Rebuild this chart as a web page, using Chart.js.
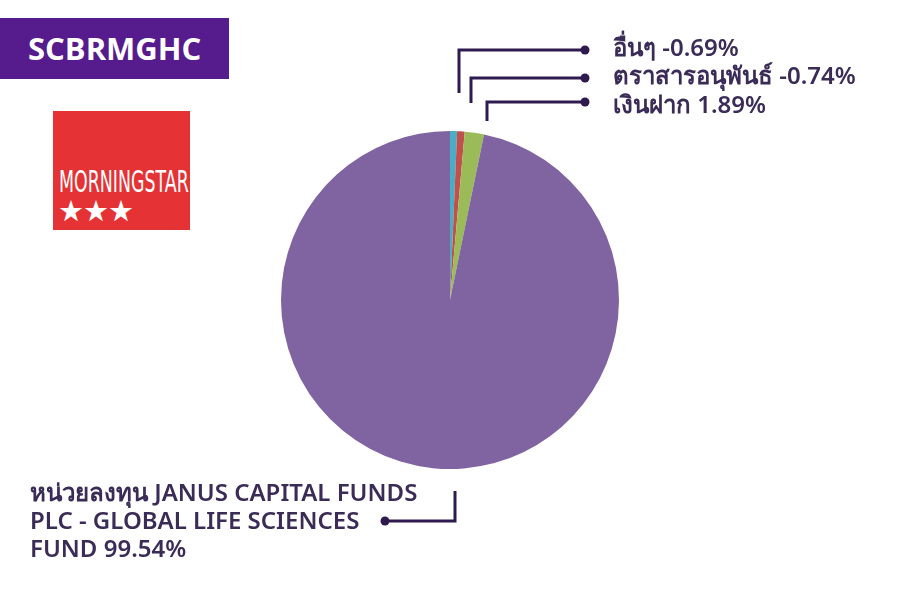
<!DOCTYPE html>
<html>
<head>
<meta charset="utf-8">
<script src="https://cdn.jsdelivr.net/npm/chart.js@4/dist/chart.umd.min.js"></script>
<style>
  body { margin: 0; background: #fff; }
  #wrap { position: relative; width: 900px; height: 600px; }
  #badge {
    position: absolute; left: 0; top: 18px; width: 229px; height: 61px;
    background: #561b8d; color: #fff; font: bold 31px "Open Sans", sans-serif;
    line-height: 61px; padding-left: 28px; box-sizing: border-box;
  }
  #logo {
    position: absolute; left: 53px; top: 111px; width: 137px; height: 119px;
    background: #e53234; color: #fff; overflow: hidden;
  }
  #logo .name {
    position: absolute; left: 6px; top: 53px; font: 30px "DejaVu Sans", sans-serif;
    transform: scaleX(0.58); transform-origin: left; white-space: nowrap;
  }
  #logo .stars { position: absolute; left: 5px; top: 83px; font: 29px "DejaVu Sans", sans-serif; letter-spacing: -1px; }
  canvas { position: absolute; left: 0; top: 0; }
</style>
</head>
<body>
<div id="wrap">
  <canvas id="pie" width="900" height="600"></canvas>
  <div id="badge">SCBRMGHC</div>
  <div id="logo"><div class="name">MORNINGSTAR</div><div class="stars">★★★</div></div>
</div>
<script>
const labels = ["อื่นๆ", "ตราสารอนุพันธ์", "เงินฝาก", "หน่วยลงทุน JANUS CAPITAL FUNDS PLC - GLOBAL LIFE SCIENCES FUND"];
const values = [-0.69, -0.74, 1.89, 99.54];
const colors = ["#4bacc6", "#c0504d", "#9bbb59", "#8064a2"];

// annotation layout for the callouts
const callouts = [
  { lines: ["อื่นๆ -0.69%"], tx: 613, ty: 49, path: [[459, 93], [459, 50], [585, 50]] },
  { lines: ["ตราสารอนุพันธ์ -0.74%"], tx: 613, ty: 77, path: [[471, 103], [471, 78], [585, 78]] },
  { lines: ["เงินฝาก 1.89%"], tx: 613, ty: 106, path: [[487, 121], [487, 102], [585, 102]] },
  { lines: ["หน่วยลงทุน JANUS CAPITAL FUNDS", "PLC - GLOBAL LIFE SCIENCES", "FUND 99.54%"], tx: 30, ty: 494, path: [[455, 491], [455, 521], [385, 521]] }
];

const calloutPlugin = {
  id: "callouts",
  afterDraw(chart) {
    const ctx = chart.ctx;
    ctx.save();
    ctx.strokeStyle = "#2e1a4f";
    ctx.fillStyle = "#2e1a4f";
    ctx.lineWidth = 3;
    callouts.forEach(c => {
      ctx.beginPath();
      c.path.forEach((p, i) => i ? ctx.lineTo(p[0], p[1]) : ctx.moveTo(p[0], p[1]));
      ctx.stroke();
      const end = c.path[c.path.length - 1];
      ctx.beginPath();
      ctx.arc(end[0], end[1], 4.5, 0, Math.PI * 2);
      ctx.fill();
    });
    ctx.fillStyle = "#3b2b57";
    ctx.font = "600 24px 'Noto Sans', sans-serif";
    ctx.textBaseline = "middle";
    callouts.forEach(c => {
      c.lines.forEach((t, i) => ctx.fillText(t, c.tx, c.ty + i * 28));
    });
    ctx.restore();
  }
};

new Chart(document.getElementById("pie"), {
  type: "pie",
  data: {
    labels: labels,
    datasets: [{
      data: values.map(v => Math.abs(v)),
      backgroundColor: colors,
      borderWidth: 0
    }]
  },
  options: {
    responsive: false,
    animation: false,
    layout: { padding: { top: 131, bottom: 131 } },
    plugins: { legend: { display: false }, tooltip: { enabled: false } }
  },
  plugins: [calloutPlugin]
});
</script>
</body>
</html>
